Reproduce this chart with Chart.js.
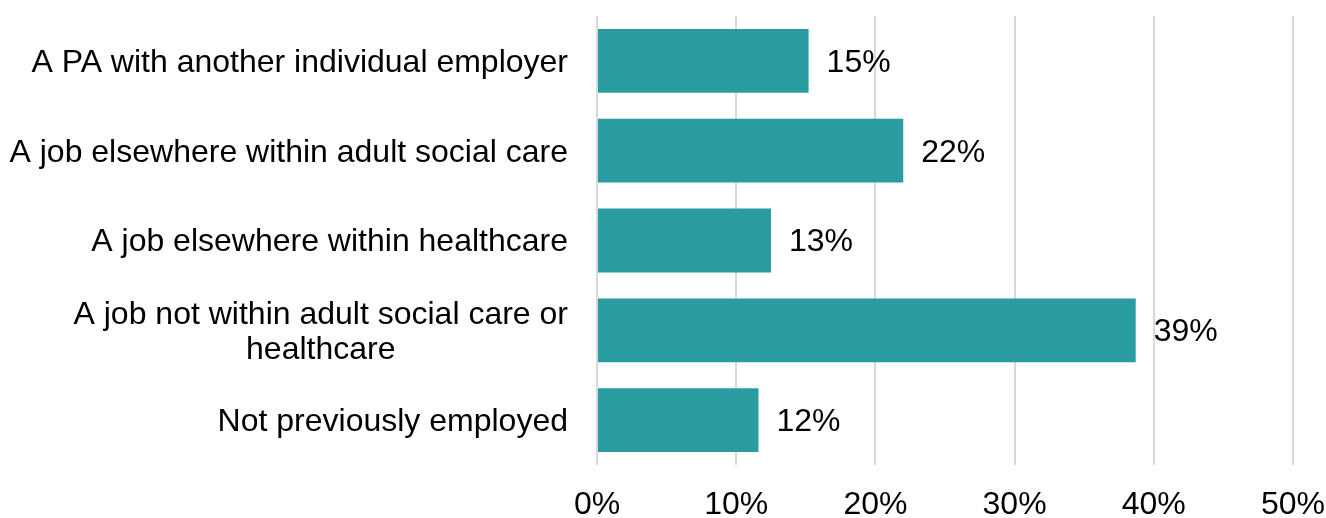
<!DOCTYPE html>
<html>
<head>
<meta charset="utf-8">
<title>Previous role</title>
<script src="https://cdn.jsdelivr.net/npm/chart.js@4"></script>
<style>
  html, body { margin: 0; padding: 0; background: #fff; }
  #wrap { width: 1326px; height: 518px; position: relative; }
</style>
</head>
<body>
<div id="wrap"><canvas id="chartPrev"></canvas></div>
<script>
const categories = [
  'A PA with another individual employer',
  'A job elsewhere within adult social care',
  'A job elsewhere within healthcare',
  ['A job not within adult social care or', 'healthcare'],
  'Not previously employed'
];
const shares = [15.2, 22.0, 12.5, 38.7, 11.6];
const xTicks = [0, 10, 20, 30, 40, 50];

const FONT = '"Liberation Sans", Arial, sans-serif';
const FONT_SIZE = 32;
const TEAL = '#299ca2';

// value text to the right of each bar
const valueLabels = {
  id: 'valueLabels',
  afterDatasetsDraw(chart) {
    const ctx = chart.ctx;
    const meta = chart.getDatasetMeta(0);
    ctx.save();
    ctx.font = FONT_SIZE + 'px ' + FONT;
    ctx.fillStyle = '#000';
    ctx.textAlign = 'left';
    ctx.textBaseline = 'middle';
    meta.data.forEach((bar, i) => {
      ctx.fillText(Math.round(shares[i]) + '%', bar.x + 18, bar.y + 2);
    });
    ctx.restore();
  }
};

// category names: block right-aligned to the axis, wrapped lines centred in the block
const categoryLabels = {
  id: 'categoryLabels',
  afterDraw(chart) {
    const ctx = chart.ctx;
    const y = chart.scales.y;
    const right = chart.chartArea.left - 29;
    const lineH = 35;
    ctx.save();
    ctx.font = FONT_SIZE + 'px ' + FONT;
    ctx.fillStyle = '#000';
    ctx.textBaseline = 'middle';
    ctx.textAlign = 'center';
    categories.forEach((cat, i) => {
      const lines = Array.isArray(cat) ? cat : [cat];
      const w = Math.max(...lines.map(l => ctx.measureText(l).width));
      const cx = right - w / 2;
      const cy = y.getPixelForValue(i);
      const top = cy - (lines.length - 1) * lineH / 2;
      lines.forEach((l, k) => ctx.fillText(l, cx, top + k * lineH + 2));
    });
    ctx.restore();
  }
};

new Chart(document.getElementById('chartPrev'), {
  type: 'bar',
  data: {
    labels: categories,
    datasets: [{
      data: shares,
      backgroundColor: TEAL,
      barPercentage: 0.71,
      categoryPercentage: 1.0
    }]
  },
  options: {
    indexAxis: 'y',
    responsive: true,
    maintainAspectRatio: false,
    animation: false,
    layout: { padding: { top: 16, right: 33, left: 0, bottom: 0 } },
    plugins: {
      legend: { display: false },
      tooltip: { enabled: false }
    },
    scales: {
      x: {
        min: 0,
        max: 50,
        afterBuildTicks: s => { s.ticks = xTicks.map(v => ({ value: v })); },
        grid: { color: '#d9d9d9', lineWidth: 2, drawTicks: false },
        border: { display: false },
        ticks: {
          padding: 21,
          color: '#000',
          font: { family: FONT, size: FONT_SIZE },
          maxRotation: 0,
          callback: v => v + '%'
        },
        afterFit: s => {
          s.height = 53;
          // let the last tick label run into the right margin
          s.paddingLeft = 0;
          s.paddingRight = 0;
        }
      },
      y: {
        grid: { display: false },
        border: { display: false },
        ticks: { display: false },
        afterFit: s => { s.width = 597; }
      }
    }
  },
  plugins: [valueLabels, categoryLabels]
});
</script>
</body>
</html>
